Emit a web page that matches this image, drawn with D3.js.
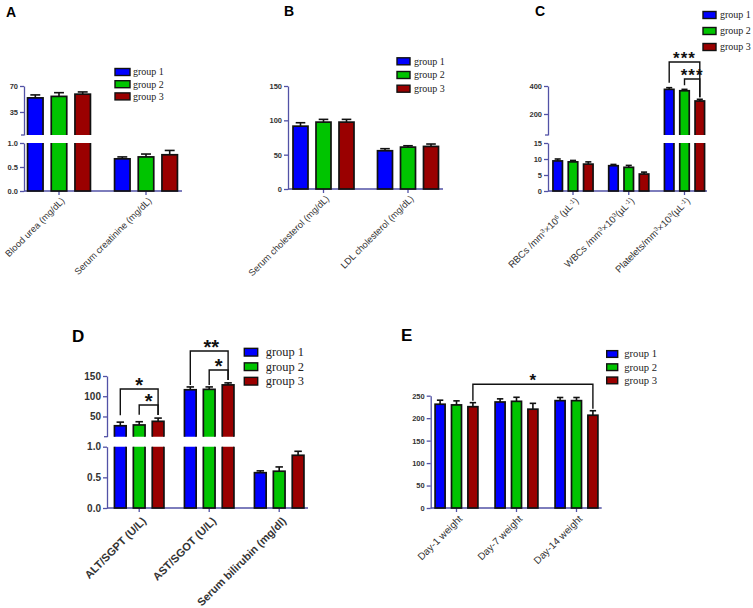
<!DOCTYPE html>
<html><head><meta charset="utf-8">
<script src="https://cdn.jsdelivr.net/npm/d3@7"></script>
<style>body{margin:0;background:#fff} svg{display:block}</style>
</head><body>
<svg id="c" width="753" height="608"></svg>
<script>
// ---------- data ----------
const groups = ["group 1", "group 2", "group 3"];
const groupColors = ["#0000ff", "#00c400", "#9a0000"];

// Panel A
const catsA = ["Blood urea (mg/dL)", "Serum creatinine (mg/dL)"];
const meanA = [[54, 0.67], [56, 0.71], [59, 0.755]];
const errA = [[4, 0.04], [5, 0.06], [3, 0.09]];
const ticksA_low = [0, 0.5, 1.0];
const ticksA_up = [35, 70];

// Panel B
const catsB = ["Serum cholesterol (mg/dL)", "LDL cholesterol (mg/dL)"];
const meanB = [[91.5, 55.7], [97.4, 61], [97.4, 62]];
const errB = [[5, 3], [4, 2], [4, 3.5]];
const ticksB = [0, 50, 100, 150];

// Panel C
const catsC = ["RBCs /mm^{3}×10^{6} (µL^{-1})", "WBCs /mm^{3}×10^{3}(µL^{-1})", "Platelets/mm^{3}×10^{3}(µL^{-1})"];
const meanC = [[9.4, 7.9, 376], [9.1, 7.4, 366], [8.4, 5.3, 293]];
const errC = [[0.6, 0.4, 12], [0.45, 0.6, 10], [0.7, 0.6, 12]];
const ticksC_low = [0, 5, 10, 15];
const ticksC_up = [200, 400];
const sigC = ["***", "***"];

// Panel D
const catsD = ["ALT/SGPT (U/L)", "AST/SGOT (U/L)", "Serum bilirubin (mg/dl)"];
const meanD = [[27, 116, 0.576], [29, 117, 0.60], [38, 128, 0.86]];
const errD = [[9, 7, 0.03], [8, 6, 0.07], [8, 5, 0.065]];
const ticksD_low = [0, 0.5, 1.0];
const ticksD_up = [50, 100, 150];
const sigD = ["*", "*", "**", "*"];

// Panel E
const catsE = ["Day-1 weight", "Day-7 weight", "Day-14 weight"];
const meanE = [[231, 236, 239], [229.5, 237.5, 239], [225.5, 220, 206.5]];
const errE = [[9, 7, 7], [9, 9, 7], [9, 13, 10]];
const ticksE = [0, 50, 100, 150, 200, 250];
const sigE = ["*"];

// ---------- drawing ----------
const svg = d3.select("#c");
const AXIS = "#5252a6";
const TXT = "#333";
let clipId = 0;

function addRich(textSel, str, size) {
  const re = /\^\{([^}]*)\}/g;
  let last = 0, m;
  while ((m = re.exec(str)) !== null) {
    if (m.index > last) textSel.append("tspan").text(str.slice(last, m.index));
    textSel.append("tspan").attr("baseline-shift", "super").attr("font-size", size * 0.65).text(m[1]);
    last = re.lastIndex;
  }
  if (last < str.length) textSel.append("tspan").text(str.slice(last));
}

function drawPanel(cfg) {
  const g = svg.append("g");
  const segs = cfg.segs.map(s => Object.assign({}, s, {scale: d3.scaleLinear().domain(s.domain).range(s.range)}));
  const lower = segs[0], upper = segs[1];
  const axisY = lower.range[0];

  const xc = d3.scalePoint().domain(cfg.cats).range(cfg.centerRange);
  const p = 1 - cfg.barW / cfg.step;
  const half = cfg.step * (3 - p) / 2;
  const xg = d3.scaleBand().domain(groups).range([-half, half]).paddingInner(p).paddingOuter(0);

  g.append("text").attr("x", cfg.letter.x).attr("y", cfg.letter.y)
    .attr("font-family", "Liberation Sans, Arial, sans-serif").attr("font-weight", "bold")
    .attr("font-size", cfg.letter.size).attr("fill", "#000").text(cfg.letter.text);

  segs.forEach((s, i) => {
    const ax = d3.axisLeft(s.scale).tickValues(s.ticks).tickSize(4).tickSizeOuter(0).tickPadding(2)
      .tickFormat(d3.format(s.fmt));
    const a = g.append("g").attr("transform", `translate(${cfg.x0},0)`).call(ax);
    a.select(".domain").attr("stroke", AXIS).attr("stroke-width", 1.3);
    a.selectAll(".tick line").attr("stroke", AXIS).attr("stroke-width", 1.3);
    a.selectAll(".tick text").attr("fill", TXT).attr("font-weight", "bold")
      .attr("font-size", cfg.tickFont).attr("font-family", "Liberation Sans, Arial, sans-serif");
    if (i === 1) {
      g.append("line").attr("x1", cfg.x0 - 3).attr("x2", cfg.x0).attr("y1", s.range[0]).attr("y2", s.range[0])
        .attr("stroke", AXIS).attr("stroke-width", 1.3);
    }
  });

  g.append("line").attr("x1", cfg.x0).attr("x2", cfg.x1).attr("y1", axisY).attr("y2", axisY)
    .attr("stroke", AXIS).attr("stroke-width", 1.5);
  cfg.cats.forEach(c => {
    g.append("line").attr("x1", xc(c)).attr("x2", xc(c)).attr("y1", axisY).attr("y2", axisY + 4)
      .attr("stroke", AXIS).attr("stroke-width", 1.3);
  });

  const defs = svg.append("defs");
  const idL = "clip" + (clipId++);
  defs.append("clipPath").attr("id", idL).append("rect")
    .attr("x", 0).attr("width", 753).attr("y", lower.range[1]).attr("height", axisY + 5 - lower.range[1]);
  let idU = null;
  if (upper) {
    idU = "clip" + (clipId++);
    defs.append("clipPath").attr("id", idU).append("rect")
      .attr("x", 0).attr("width", 753).attr("y", 0).attr("height", upper.range[0]);
  }

  const lmax = lower.domain[1];
  cfg.means.forEach((row, gi) => {
    row.forEach((v, ci) => {
      const cx = xc(cfg.cats[ci]) + xg(groups[gi]) + xg.bandwidth() / 2;
      const bx = cx - xg.bandwidth() / 2;
      const e = cfg.errs[gi][ci];
      const top = v > lmax ? lower.range[1] - 10 : lower.scale(v);
      g.append("rect").attr("clip-path", `url(#${idL})`)
        .attr("x", bx).attr("width", xg.bandwidth()).attr("y", top).attr("height", axisY - top)
        .attr("fill", groupColors[gi]).attr("stroke", "#111").attr("stroke-width", 1.7);
      let s = lower;
      if (v > lmax && upper) {
        s = upper;
        const ut = upper.scale(v);
        g.append("rect").attr("clip-path", `url(#${idU})`)
          .attr("x", bx).attr("width", xg.bandwidth()).attr("y", ut).attr("height", upper.range[0] + 10 - ut)
          .attr("fill", groupColors[gi]).attr("stroke", "#111").attr("stroke-width", 1.7);
      }
      const y1 = s.scale(v), y2 = s.scale(v + e);
      const cw = xg.bandwidth() * 0.32;
      g.append("line").attr("x1", cx).attr("x2", cx).attr("y1", y1).attr("y2", y2)
        .attr("stroke", "#111").attr("stroke-width", 1.6);
      g.append("line").attr("x1", cx - cw).attr("x2", cx + cw).attr("y1", y2).attr("y2", y2)
        .attr("stroke", "#111").attr("stroke-width", 1.6);
    });
  });

  cfg.cats.forEach(c => {
    const t = g.append("text")
      .attr("transform", `translate(${xc(c) + cfg.lab.dx},${axisY + cfg.lab.dy}) rotate(-45)`)
      .attr("text-anchor", "end").attr("dy", "0.35em")
      .attr("font-family", "Liberation Sans, Arial, sans-serif")
      .attr("font-weight", cfg.lab.bold ? "bold" : "normal")
      .attr("font-size", cfg.lab.size).attr("fill", TXT);
    addRich(t, c, cfg.lab.size);
  });

  const L = cfg.legend;
  groups.forEach((gname, i) => {
    const cy = L.y0 + i * L.dy;
    g.append("rect").attr("x", L.x).attr("y", cy - L.h / 2).attr("width", L.w).attr("height", L.h)
      .attr("fill", groupColors[i]).attr("stroke", "#111").attr("stroke-width", 1.4);
    g.append("text").attr("x", L.tx).attr("y", cy + L.size * 0.33)
      .attr("font-family", "Liberation Serif, Times New Roman, serif").attr("font-size", L.size)
      .attr("fill", "#222").text(gname);
  });

  const topOf = (gi, ci) => {
    const v = cfg.means[gi][ci], e = cfg.errs[gi][ci];
    const s = (v > lmax && upper) ? upper : lower;
    return s.scale(v + e);
  };
  const barC = (gi, ci) => xc(cfg.cats[ci]) + xg(groups[gi]) + xg.bandwidth() / 2;
  (cfg.brackets || []).forEach(b => {
    const xa = barC(b.g1, b.c1), xb = barC(b.g2, b.c2);
    const ya = topOf(b.g1, b.c1) - b.gap1, yb = topOf(b.g2, b.c2) - b.gap2;
    g.append("path").attr("d", `M${xa},${ya}V${b.y}H${xb}V${yb}`)
      .attr("fill", "none").attr("stroke", "#111").attr("stroke-width", 1.4);
    g.append("text").attr("x", (xa + xb) / 2 + (b.tdx || 0)).attr("y", b.y - b.tgap + b.size * 0.58)
      .attr("text-anchor", "middle").attr("font-family", "Liberation Sans, Arial, sans-serif")
      .attr("font-weight", "bold").attr("font-size", b.size).attr("letter-spacing", b.ls || 0)
      .attr("fill", "#111").text(b.label);
  });
}

drawPanel({
  cats: catsA, means: meanA, errs: errA,
  x0: 24, x1: 182, centerRange: [59, 146], step: 23.7, barW: 15.5,
  segs: [{domain: [0, 1], range: [191, 143], ticks: ticksA_low, fmt: ".1f"},
         {domain: [4, 70], range: [135, 86], ticks: ticksA_up, fmt: "d"}],
  tickFont: 7.5,
  lab: {dx: 4, dy: 8, size: 9.3, bold: false},
  legend: {x: 115, tx: 133, y0: 72, dy: 12.2, w: 15, h: 7, size: 10},
  letter: {text: "A", x: 6, y: 17, size: 14}
});

drawPanel({
  cats: catsB, means: meanB, errs: errB,
  x0: 288, x1: 443, centerRange: [323.5, 408], step: 23, barW: 15,
  segs: [{domain: [0, 150], range: [189, 86], ticks: ticksB, fmt: "d"}],
  tickFont: 7.5,
  lab: {dx: 4, dy: 8, size: 9.3, bold: false},
  legend: {x: 397, tx: 414, y0: 61.3, dy: 13.7, w: 13, h: 7, size: 10},
  letter: {text: "B", x: 284, y: 16, size: 14}
});

drawPanel({
  cats: catsC, means: meanC, errs: errC,
  x0: 548, x1: 707, centerRange: [573, 684.5], step: 15.3, barW: 9.5,
  segs: [{domain: [0, 15], range: [191, 143], ticks: ticksC_low, fmt: "d"},
         {domain: [50, 400], range: [135, 86], ticks: ticksC_up, fmt: "d"}],
  tickFont: 7.5,
  lab: {dx: 4, dy: 8, size: 9.6, bold: false},
  legend: {x: 703, tx: 720, y0: 15, dy: 16, w: 13, h: 7, size: 10},
  letter: {text: "C", x: 535, y: 16, size: 14},
  brackets: [
    {g1: 0, c1: 2, g2: 2, c2: 2, y: 62, gap1: 5, gap2: 2, label: sigC[0], size: 17, tgap: 8, ls: 1},
    {g1: 1, c1: 2, g2: 2, c2: 2, y: 79, gap1: 4, gap2: 2, label: sigC[1], size: 17, tgap: 8, ls: 1}
  ]
});

drawPanel({
  cats: catsD, means: meanD, errs: errD,
  x0: 107, x1: 308, centerRange: [139.2, 279.2], step: 18.9, barW: 11.7,
  segs: [{domain: [0, 1], range: [508, 446.7], ticks: ticksD_low, fmt: ".1f"},
         {domain: [0, 150], range: [436.7, 376], ticks: ticksD_up, fmt: "d"}],
  tickFont: 10,
  lab: {dx: 5, dy: 11, size: 11, bold: true},
  legend: {x: 244.3, tx: 265.7, y0: 352.2, dy: 14.5, w: 13.4, h: 7.7, size: 12.4},
  letter: {text: "D", x: 72, y: 341.5, size: 17},
  brackets: [
    {g1: 0, c1: 0, g2: 2, c2: 0, y: 389, gap1: 7, gap2: 3, label: sigD[0], size: 20, tgap: 9},
    {g1: 1, c1: 0, g2: 2, c2: 0, y: 405, gap1: 7, gap2: 3, label: sigD[1], size: 20, tgap: 9},
    {g1: 0, c1: 1, g2: 2, c2: 1, y: 351, gap1: 2, gap2: 3, label: sigD[2], size: 20, tgap: 9, tdx: 2},
    {g1: 1, c1: 1, g2: 2, c2: 1, y: 370, gap1: 2, gap2: 3, label: sigD[3], size: 20, tgap: 9}
  ]
});

drawPanel({
  cats: catsE, means: meanE, errs: errE,
  x0: 430.7, x1: 601.7, centerRange: [456.5, 576.5], step: 16.4, barW: 10,
  segs: [{domain: [0, 250], range: [508, 395.7], ticks: ticksE, fmt: "d"}],
  tickFont: 7.5,
  lab: {dx: 4, dy: 9, size: 10, bold: false},
  legend: {x: 606.7, tx: 624.3, y0: 354, dy: 13.2, w: 11, h: 6.7, size: 10.6},
  letter: {text: "E", x: 401, y: 341, size: 17},
  brackets: [
    {g1: 2, c1: 0, g2: 2, c2: 2, y: 384.3, gap1: 2, gap2: 2, label: sigE[0], size: 17, tgap: 8}
  ]
});
</script>
</body></html>
